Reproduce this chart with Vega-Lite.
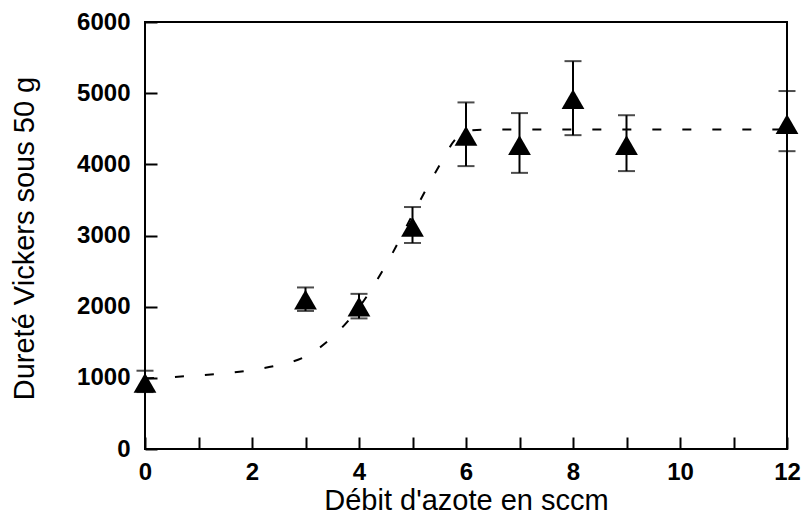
{
  "$schema": "https://vega.github.io/schema/vega-lite/v6.json",
  "width": 642,
  "height": 427,
  "autosize": {"type": "none"},
  "padding": {"left": 145, "top": 22, "right": 19, "bottom": 70},
  "background": "white",
  "config": {
    "view": {"stroke": "black", "strokeWidth": 2},
    "axis": {
      "grid": false,
      "domain": false,
      "tickColor": "black",
      "tickWidth": 2,
      "tickSize": -12,
      "labelFont": "Liberation Sans",
      "labelFontSize": 24,
      "labelFontWeight": "bold",
      "labelColor": "black",
      "titleFont": "Liberation Sans",
      "titleFontSize": 29,
      "titleFontWeight": "normal",
      "titleColor": "black"
    }
  },
  "datasets": {
    "points": [
      {"x": 0, "y": 930, "lo": 800, "hi": 1100},
      {"x": 3, "y": 2100, "lo": 1940, "hi": 2270},
      {"x": 4, "y": 2000, "lo": 1835, "hi": 2180},
      {"x": 5, "y": 3120, "lo": 2895, "hi": 3400},
      {"x": 6, "y": 4400, "lo": 3975, "hi": 4870},
      {"x": 7, "y": 4270, "lo": 3880, "hi": 4720},
      {"x": 8, "y": 4915, "lo": 4410, "hi": 5450},
      {"x": 9, "y": 4270, "lo": 3905, "hi": 4690},
      {"x": 12, "y": 4565, "lo": 4185, "hi": 5030}
    ],
    "curve": [
      {"x": 0, "y": 990},
      {"x": 0.5, "y": 1010},
      {"x": 1, "y": 1035},
      {"x": 1.5, "y": 1065},
      {"x": 2, "y": 1110},
      {"x": 2.5, "y": 1180},
      {"x": 3, "y": 1300},
      {"x": 3.5, "y": 1570},
      {"x": 4, "y": 1990},
      {"x": 4.5, "y": 2580},
      {"x": 5, "y": 3290},
      {"x": 5.5, "y": 3980},
      {"x": 5.8, "y": 4350},
      {"x": 6, "y": 4470},
      {"x": 6.5, "y": 4490},
      {"x": 12, "y": 4490}
    ]
  },
  "encoding": {
    "x": {
      "field": "x",
      "type": "quantitative",
      "scale": {"domain": [0, 12], "nice": false, "zero": false},
      "axis": {
        "title": "Débit d'azote en sccm",
        "values": [0, 1, 2, 3, 4, 5, 6, 7, 8, 9, 10, 11, 12],
        "labelExpr": "datum.value % 2 == 0 ? datum.label : ''",
        "labelPadding": 23,
        "labelFlush": false,
        "titleY": 60,
        "titleBaseline": "alphabetic"
      }
    }
  },
  "layer": [
    {
      "data": {"name": "curve"},
      "mark": {"type": "line", "color": "black", "strokeWidth": 2, "strokeDash": [9, 21], "interpolate": "monotone"},
      "encoding": {
        "y": {
          "field": "y",
          "type": "quantitative",
          "scale": {"domain": [0, 6000], "nice": false},
          "axis": {
            "title": "Dureté Vickers sous 50 g",
            "values": [0, 1000, 2000, 3000, 4000, 5000, 6000],
            "format": "d",
            "labelPadding": 27,
            "labelFlush": false,
            "titleX": -112,
            "titleY": 216,
            "titleAlign": "center",
            "titleBaseline": "alphabetic",
            "titleAngle": -90
          }
        }
      }
    },
    {
      "data": {"name": "points"},
      "mark": {"type": "rule", "color": "black", "strokeWidth": 2},
      "encoding": {
        "y": {"field": "lo", "type": "quantitative"},
        "y2": {"field": "hi"}
      }
    },
    {
      "data": {"name": "points"},
      "mark": {"type": "tick", "color": "black", "orient": "horizontal", "size": 17, "thickness": 2},
      "encoding": {
        "y": {"field": "lo", "type": "quantitative"}
      }
    },
    {
      "data": {"name": "points"},
      "mark": {"type": "tick", "color": "black", "orient": "horizontal", "size": 17, "thickness": 2},
      "encoding": {
        "y": {"field": "hi", "type": "quantitative"}
      }
    },
    {
      "data": {"name": "points"},
      "mark": {"type": "point", "shape": "triangle-up", "filled": true, "color": "black", "opacity": 1, "size": 520},
      "encoding": {
        "y": {"field": "y", "type": "quantitative"}
      }
    }
  ]
}
